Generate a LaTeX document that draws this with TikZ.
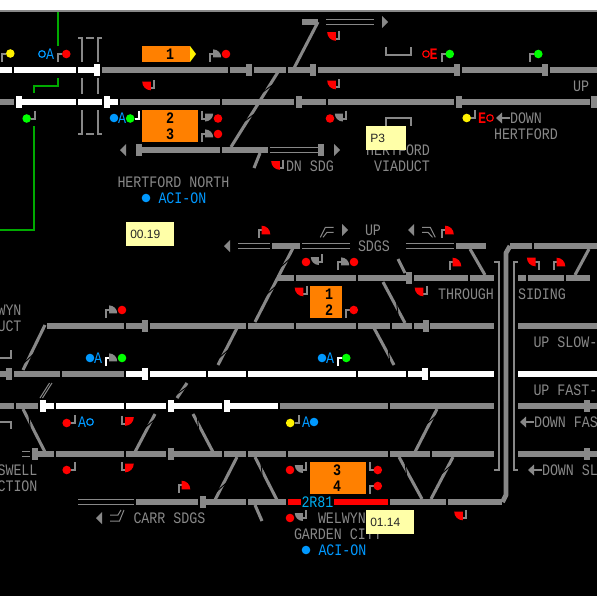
\documentclass[tikz,border=0pt]{standalone}
\usepackage{fontspec}
\usetikzlibrary{calc}
\newfontfamily\pixfont[FakeStretch=0.833]{Liberation Mono}
\newfontfamily\tipfont{Liberation Sans}
\definecolor{tg}{HTML}{888888}
\definecolor{sblue}{HTML}{0099FF}
\definecolor{sgreen}{HTML}{00FF00}
\definecolor{gline}{HTML}{00AA00}
\definecolor{orng}{HTML}{FF8000}
\definecolor{tipc}{HTML}{FFFFA8}
\tikzset{
  lbl/.style={inner sep=0pt,outer sep=0pt,text=tg,font=\fontsize{12}{12}\pixfont},
  lblw/.style={lbl,anchor=west},
  lble/.style={lbl,anchor=east},
  blu/.style={lbl,text=sblue},
  rdt/.style={lbl,text=red,font=\fontsize{12}{12}\pixfont\bfseries},
  dig/.style={lbl,text=black,font=\fontsize{12}{12}\pixfont\bfseries},
  tip/.style={inner sep=0pt,anchor=west,text=black!85,font=\fontsize{9}{9}\tipfont},
  thin1/.style={draw=tg,line width=0.75pt,line cap=butt},
  post/.style={line width=1.5pt,line join=miter,line cap=butt},
  wire/.style={draw=gline,line width=1.5pt,line join=miter},
  dg/.style={draw=tg,line width=2.3pt,line cap=butt},
}
\newcommand{\trk}[3]{\foreach \a/\b in {#3}{\fill[#1] (\a,#2-3.2) rectangle (\b,#2+3.2);}}
\newcommand{\jnt}[3]{\fill[#1] (#2,#3-6) rectangle (#2+6,#3+6);}
\newcommand{\dgl}[5]{%
  \draw[dg] (#1,#2)--(#3,#4);
  \pgfmathsetmacro{\dd}{veclen(#3-#1,#4-#2)}%
  \pgfmathsetmacro{\nx}{(#4-#2)/\dd}%
  \pgfmathsetmacro{\ny}{-(#3-#1)/\dd}%
  \foreach \f in {#5}{%
    \pgfmathsetmacro{\fa}{\f-6/\dd}%
    \pgfmathsetmacro{\fb}{\f+6/\dd}%
    \draw[black,line width=0.7pt]
      ({#1+\fa*(#3-#1)+2.4*\nx},{#2+\fa*(#4-#2)+2.4*\ny})--
      ({#1+\fb*(#3-#1)-2.4*\nx},{#2+\fb*(#4-#2)-2.4*\ny});}}
\newcommand{\wdg}[3]{\fill[#1] (3.2,#2) -- (3.2,{#2-#3}) .. controls ({3.2+.55*#3},{#2-#3}) and ({3.2+#3},{#2-.55*#3}) .. ({3.2+#3},#2) -- cycle;}
\newcommand{\pst}[1]{\draw[post,#1] (0,8)--(0,0)--(4,0);}
\newcommand{\sDot}[6]{\begin{scope}[shift={(#1,#2)},xscale=#3,yscale=#4]\pst{#6}\fill[#5] (8.3,0) circle[radius=4.3];\end{scope}}
\newcommand{\sWg}[7]{\begin{scope}[shift={(#1,#2)},xscale=#3,yscale=#4]\pst{#6}\wdg{tg}{#7}{8}\fill[#5] (16,0) circle[radius=4.3];\end{scope}}
\newcommand{\rU}[3]{\begin{scope}[shift={(#1,#2)},xscale=#3]\pst{tg}\wdg{red}{4.3}{8.6}\end{scope}}
\newcommand{\rD}[3]{\begin{scope}[shift={(#1,#2)},xscale=#3,yscale=-1]\pst{tg}\wdg{red}{6.3}{8.6}\end{scope}}
\newcommand{\rH}[2]{\begin{scope}[shift={(#1,#2)},xscale=-1]\pst{tg}\begin{scope}[yscale=-1]\wdg{red}{4.3}{8.6}\end{scope}\end{scope}}
\newcommand{\larr}[3]{\fill[tg] (#1,#3)--(#1+6,#3-5.5)--(#1+6,#3+5.5)--cycle;\draw[tg,line width=1.5pt] (#1+5,#3)--(#2,#3);}
\newcommand{\tril}[2]{\fill[tg] (#1,#2)--(#1+6,#2-6)--(#1+6,#2+6)--cycle;}
\newcommand{\trir}[2]{\fill[tg] (#1+6,#2)--(#1,#2-6)--(#1,#2+6)--cycle;}
\newcommand{\dbl}[3]{\draw[thin1] (#1,#3-2.8)--(#2,#3-2.8) (#1,#3+2.4)--(#2,#3+2.4);}
\begin{document}
\begin{tikzpicture}[x=0.75pt,y=-0.75pt]
\useasboundingbox (0,0) rectangle (597,596);
\clip (0,0) rectangle (597,596);
\fill[black] (0,0) rectangle (597,596);
\fill[white] (0,0) rectangle (597,10);
\fill[tg] (0,10) rectangle (597,12);
% green wires
\draw[wire] (58,12)--(58,46);
\draw[wire] (58,78)--(58,85.5)--(34,85.5)--(34,93);
\draw[wire] (34,126)--(34,230)--(0,230);
% platform brackets
\draw[post,tg] (78,38)--(82,38)--(82,62) (86,38)--(94,38) (102,38)--(98,38)--(98,62)
  (82,78)--(82,94) (98,78)--(98,94)
  (82,110)--(82,134)--(78,134) (86,134)--(94,134) (98,110)--(98,134)--(102,134);
\draw[post,tg] (385.5,46.5)--(385.5,54.5)--(410.5,54.5)--(410.5,46.5);
\draw[post,tg] (385.5,126)--(385.5,117.5)--(410.5,117.5)--(410.5,126);
% diagonals
\dgl{231}{147}{278}{72}{.39,.78}
\dgl{292}{72}{318}{22}{}
\dgl{260}{153}{254}{168}{}
\dgl{293}{248}{255}{322}{.2,.57}
\dgl{470}{249}{485}{275}{}
\dgl{589}{249}{575}{275}{}
\dgl{45}{325}{23}{370}{.75}
\dgl{237}{328}{218}{365}{.7}
\dgl{187}{383}{177}{398}{.5}
\dgl{374}{328}{394}{365}{.75}
\dgl{383}{282}{405}{323}{.65}
\dgl{398}{259}{405}{273}{}
\dgl{23}{409}{45}{452}{.3}
\dgl{155}{414}{135}{452}{.25}
\dgl{193}{414}{213}{452}{.25}
\dgl{237}{457}{215}{500}{.7}
\dgl{255}{457}{277}{500}{.3}
\dgl{255}{505}{262}{521}{}
\dgl{437}{409}{415}{452}{.25}
\dgl{399}{457}{422}{499}{.3}
\dgl{453}{457}{431}{499}{.3}
% crossover thin
\draw[thin1] (52,383)--(42.5,398) (49.5,383)--(40,398);
% long curved line
\draw[tg,line width=3.6pt,line join=round] (506,400)--(506,495)--(502.5,502);
\draw[tg,line width=3.6pt,line join=round] (506,400)--(506,253)--(510,246);
\trk{tg}{246}{510/532}
\draw[post,tg] (494,262)--(498.5,262)--(498.5,470)--(494,470);
\draw[post,tg] (518,262)--(513.5,262)--(513.5,470)--(518,470);
% tracks
\trk{white}{70}{0/12,14/76,78/94,94/100}
\trk{tg}{70}{102/228,230/246,254/286,288/310,318/454,462/542,550/597}
\trk{tg}{102}{0/14,120/220,222/294,302/326,328/454,462/590}
\trk{white}{102}{22/76,78/102,110/118}
\trk{tg}{150}{142/220,222/268}
\trk{tg}{22}{302/318}
\trk{tg}{246}{272/300,456/486,534/597}
\trk{tg}{278}{277/294,296/356,358/406,414/468,470/494,518/526,528/564,566/590}
\trk{tg}{326}{47/124,126/142,150/246,248/294,296/356,358/390,392/412,414/423,430/494,518/597}
\trk{tg}{374}{0/6,14/60,62/124}
\trk{white}{374}{126/142,150/206,208/246,248/356,358/406,408/422,430/494,518/597}
\trk{tg}{406}{0/14,16/38,280/388,390/494,518/584,590/597}
\trk{white}{406}{46/54,56/124,126/166,174/222,230/278}
\trk{tg}{454}{38/54,56/124,126/166,174/222,224/246,248/286,288/388,390/430,432/494,518/584,590/597}
\trk{tg}{502}{136/198,206/246,248/286,390/446,448/502,280/286}
\trk{red}{502}{288/388}
% joints
\jnt{white}{94}{70}\jnt{tg}{246}{70}\jnt{tg}{310}{70}\jnt{tg}{454}{70}\jnt{tg}{542}{70}
\jnt{white}{16}{102}\jnt{white}{104}{102}\jnt{tg}{296}{102}\jnt{tg}{456}{102}\jnt{tg}{591}{102}
\jnt{tg}{136}{150}\jnt{tg}{318}{150}\jnt{tg}{406}{278}
\jnt{tg}{142}{326}\jnt{tg}{423}{326}
\jnt{tg}{6}{374}\jnt{white}{142}{374}\jnt{white}{422}{374}
\jnt{white}{40}{406}\jnt{white}{168}{406}\jnt{white}{224}{406}\jnt{tg}{584}{406}
\jnt{tg}{32}{454}\jnt{tg}{168}{454}\jnt{tg}{584}{454}
\jnt{tg}{200}{502}
% double lines
\dbl{270}{318}{150}\dbl{326}{374}{22}
\dbl{238}{270}{246}\dbl{302}{350}{246}\dbl{406}{454}{246}
\dbl{22}{30}{454}\dbl{78}{134}{502}
% end arrows
\tril{120}{150}\trir{334}{150}\trir{382}{22}\tril{224}{246}\trir{342}{230}\tril{408}{230}\tril{96}{518}
% siding symbols
\draw[thin1] (320.3,237.3)--(325.3,227.3)--(333.7,227.3) (323,237.3)--(327,232.3)--(333.7,232.3);
\draw[thin1] (422,227.3)--(430.3,227.3)--(435.3,237.3) (422,232.3)--(428,232.3)--(432.5,237.3);
\draw[thin1] (110,515)--(118,515)--(121,510) (110,521)--(119.5,521)--(124,510);
% left-edge posts
\draw[post,tg] (0,358)--(10.5,358)--(10.5,350);
\draw[post,tg] (0,422)--(10.5,422)--(10.5,429);
% signals
\sDot{2}{53.5}{1}{1}{yellow}{tg}
\sDot{58}{54}{1}{1}{red}{tg}
\sDot{35}{118.5}{-1}{-1}{sgreen}{tg}
\sDot{138.5}{118.5}{-1}{-1}{sgreen}{white}
\sWg{210}{54}{1}{1}{red}{tg}{3.4}
\sWg{202}{118.5}{1}{-1}{red}{tg}{5}
\sWg{202}{134}{1}{1}{red}{tg}{3.4}
\sWg{346}{118.5}{-1}{-1}{red}{tg}{5}
\sDot{441.5}{54}{1}{1}{sgreen}{tg}
\sDot{530}{54}{1}{1}{sgreen}{tg}
\sDot{475}{118}{-1}{-1}{yellow}{tg}
\sWg{106}{310}{1}{1}{red}{tg}{3.4}
\sWg{106}{358}{1}{1}{sgreen}{white}{3.4}
\sDot{338}{358}{1}{1}{sgreen}{white}
\sDot{75}{423}{-1}{-1}{red}{tg}
\sDot{75}{470}{-1}{-1}{red}{tg}
\sDot{298.5}{423}{-1}{-1}{yellow}{tg}
\sWg{322}{262}{-1}{-1}{red}{tg}{5}
\sWg{338}{262}{1}{1}{red}{tg}{3.4}
\sDot{345.5}{310}{1}{1}{red}{tg}
\sWg{306}{470}{-1}{-1}{red}{tg}{5}
\sWg{306}{518}{-1}{-1}{red}{tg}{5}
\sDot{369.5}{470}{1}{-1}{red}{tg}
\sDot{369.5}{486}{1}{1}{red}{tg}
\rD{154}{88}{-1}
\rD{339}{38.5}{-1}
\rD{339}{87}{-1}
\rD{283}{167.5}{-1}
\rU{258.5}{230}{1}
\rU{442}{230}{1}
\rU{449.5}{262}{1}
\rU{553.5}{262}{1}
\rU{178.5}{485}{1}
\rD{306.5}{294}{-1}
\rD{426.5}{294}{-1}
\rH{538.7}{262}
\rD{122}{423.5}{1}
\rD{122}{470}{1}
\rD{466}{518}{-1}
% rings and dots
\draw[sblue,line width=0.9pt] (42,54) circle[radius=3.3];
\draw[sblue,line width=0.9pt] (90,422) circle[radius=3.3];
\draw[red,line width=0.9pt] (426,54) circle[radius=3.3];
\draw[red,line width=0.9pt] (490,118) circle[radius=3.3];
\foreach \p in {(114,118),(146,198),(90,358),(322,358),(314,422),(306,550)}{\fill[sblue] \p circle[radius=4.3];}
% signal letters
\node[blu] (a1) at (50,54) {A};
\node[blu] (a2) at (122,118) {A};
\node[blu] (a3) at (98,358) {A};
\node[blu] (a4) at (330,358) {A};
\node[blu] (a5) at (82,422) {A};
\node[blu] (a6) at (306,422) {A};
\node[rdt] (e1) at (433.5,54) {E};
\node[rdt] (e2) at (482,118) {E};
% train boxes
\fill[orng] (142,46) rectangle (190,62);
\fill[yellow] (190,46)--(196,54)--(190,62)--cycle;
\fill[orng] (142,110) rectangle (198,142);
\fill[orng] (310,286) rectangle (342,318);
\fill[orng] (310,462) rectangle (366,494);
\node[dig] (d1) at (170,54) {1};
\node[dig] (d2) at (170,118) {2};
\node[dig] (d3) at (170,134) {3};
\node[dig] (d4) at (329,294) {1};
\node[dig] (d5) at (329,310) {2};
\node[dig] (d6) at (337,470) {3};
\node[dig] (d7) at (337,486) {4};
% labels
\node[lble] (t1) at (589,86) {UP};
\node[lble] (t2) at (430,150) {HERTFORD};
\node[lble] (t3) at (430,166) {VIADUCT};
\node[lblw] (t4) at (510,118) {DOWN};
\node[lblw] (t5) at (494,134) {HERTFORD};
\larr{496}{510}{118}
\node[lblw] (t6) at (286,166) {DN SDG};
\node[lblw] (t7) at (117.5,182) {HERTFORD NORTH};
\node[blu,anchor=west] (t8) at (158.5,198) {ACI-ON};
\node[lblw] (t9) at (365,230) {UP};
\node[lblw] (t10) at (358,246) {SDGS};
\node[lble] (t11) at (494,294) {THROUGH};
\node[lblw] (t12) at (518,294) {SIDING};
\node[lble] (t13) at (21.5,310) {WYN};
\node[lble] (t14) at (21.5,326) {UCT};
\node[lblw] (t15) at (533.5,342) {UP SLOW-};
\node[lblw] (t16) at (533.5,390) {UP FAST-};
\larr{520}{534}{422}
\node[lblw] (t17) at (534,422) {DOWN FAS};
\larr{528}{542}{470}
\node[lblw] (t18) at (542,470) {DOWN SL};
\node[lble] (t19) at (37.5,470) {SWELL};
\node[lble] (t20) at (37.5,486) {CTION};
\node[lblw] (t21) at (133.5,518) {CARR SDGS};
\node[lblw] (t22) at (318,518) {WELWYN};
\node[lblw] (t23) at (294,534) {GARDEN CITY};
\node[blu,anchor=west] (t24) at (318.5,550) {ACI-ON};
\fill[black] (301,495) rectangle (334,509);
\node[lblw,text=cyan] (t25) at (301.5,502) {2R81};
% tooltips
\fill[tipc] (366,126) rectangle (406,150);
\node[tip] (p3) at (370,138) {P3};
\fill[tipc] (126,222) rectangle (174,246);
\node[tip] (c1) at (130,234) {00.19};
\fill[tipc] (366,510) rectangle (414,534);
\node[tip] (c2) at (370,522) {01.14};
\end{tikzpicture}
\end{document}
